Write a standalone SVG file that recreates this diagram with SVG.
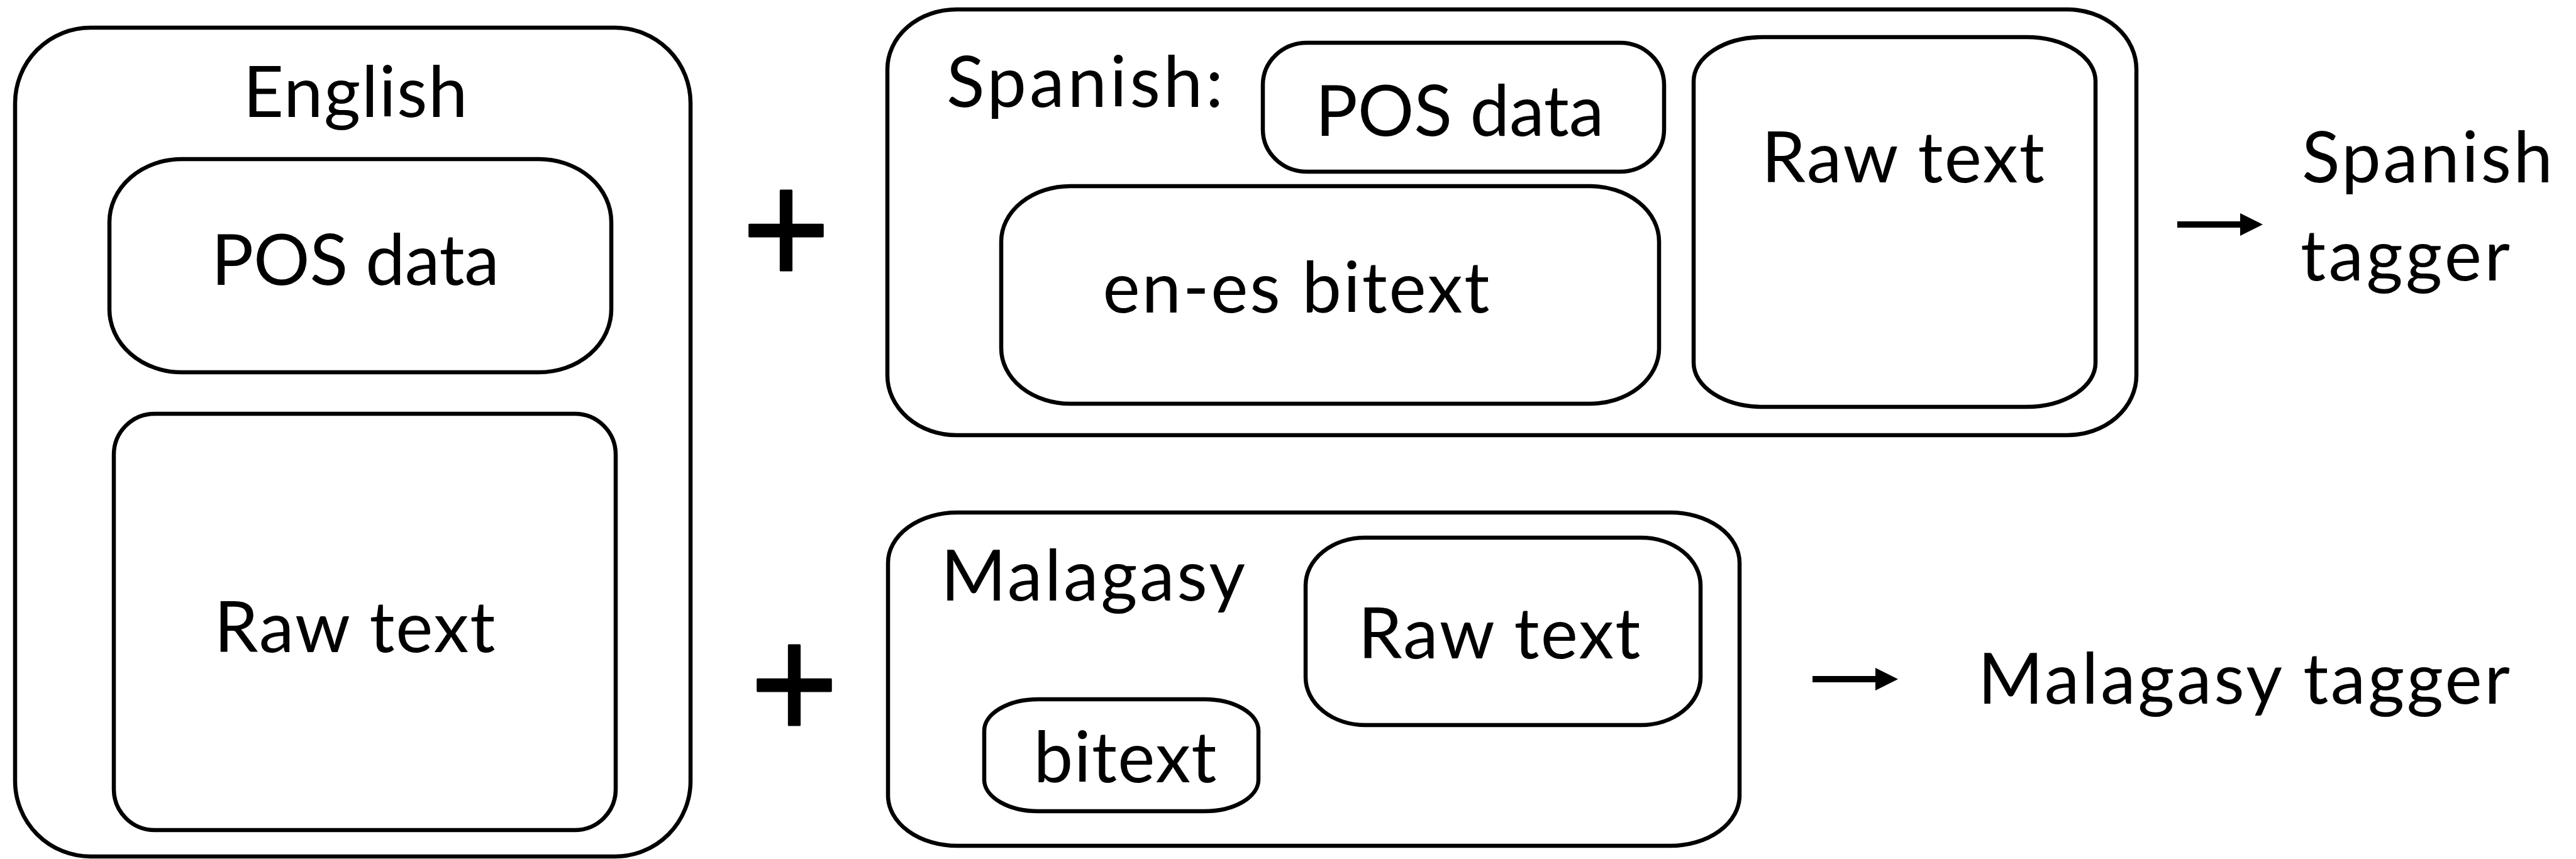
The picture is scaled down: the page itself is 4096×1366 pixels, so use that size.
<svg xmlns="http://www.w3.org/2000/svg" width="4096" height="1366" viewBox="0 0 4096 1366">
  <style>
    .box { fill: none; stroke: #000; stroke-width: 6.5; }
    .lbl { font-family: Lato, "Liberation Sans", sans-serif; font-size: 112px; fill: #000; }
    .mid { text-anchor: middle; }
    .op { font-family: "Liberation Sans", sans-serif; font-size: 240px; text-anchor: middle; fill: #000; stroke: #000; stroke-width: 3; stroke-linejoin: round; }
    .arrow { stroke: #000; stroke-width: 10; fill: none; marker-end: url(#head); }
  </style>
  <defs>
    <marker id="head" markerUnits="userSpaceOnUse" viewBox="0 0 36 36" markerWidth="36" markerHeight="36" refX="2" refY="18" orient="auto">
      <path d="M0,0 L36,18 L0,36 Z" fill="#000"/>
    </marker>
  </defs>
  <rect width="4096" height="1366" fill="#fff"/>

  <!-- English resources -->
  <g id="english">
    <rect class="box" x="24" y="44" width="1074" height="1318" rx="120" ry="120"/>
    <text class="lbl mid" x="565" y="186" textLength="357">English</text>
  </g>
  <g id="english-pos">
    <rect class="box" x="174" y="253" width="798" height="339" rx="115" ry="100"/>
    <text class="lbl mid" x="565" y="453" textLength="458">POS data</text>
  </g>
  <g id="english-raw">
    <rect class="box" x="181" y="658" width="798" height="662" rx="65" ry="65"/>
    <text class="lbl mid" x="564" y="1037" textLength="447">Raw text</text>
  </g>

  <!-- operators, centred on their own origin and stretched slightly taller -->
  <g id="plus-top" transform="translate(1250,368) scale(1,1.08)"><text class="op" x="0" y="78.5">+</text></g>
  <g id="plus-bottom" transform="translate(1263,1091) scale(1,1.08)"><text class="op" x="0" y="78.5">+</text></g>

  <!-- Spanish resources -->
  <g id="spanish">
    <rect class="box" x="1411" y="15" width="1986" height="677" rx="110" ry="95"/>
    <text class="lbl mid" x="1725" y="170" textLength="440">Spanish:</text>
  </g>
  <g id="spanish-pos">
    <rect class="box" x="2008" y="68" width="638" height="205" rx="70" ry="67"/>
    <text class="lbl mid" x="2321" y="216" textLength="459">POS data</text>
  </g>
  <g id="en-es-bitext">
    <rect class="box" x="1592" y="296" width="1046" height="346" rx="110" ry="88"/>
    <text class="lbl mid" x="2061" y="497" textLength="615">en-es bitext</text>
  </g>
  <g id="spanish-raw">
    <rect class="box" x="2693" y="59" width="639" height="588" rx="110" ry="70"/>
    <text class="lbl mid" x="3026" y="290" textLength="450">Raw text</text>
  </g>
  <g id="spanish-tagger">
    <text class="lbl" x="3660" y="290" textLength="399">Spanish</text>
    <text class="lbl" x="3658" y="446" textLength="333">tagger</text>
  </g>

  <!-- Malagasy resources -->
  <g id="malagasy">
    <rect class="box" x="1412" y="815" width="1354" height="530" rx="110" ry="80"/>
    <text class="lbl mid" x="1738" y="955" textLength="484">Malagasy</text>
  </g>
  <g id="malagasy-raw">
    <rect class="box" x="2076" y="855" width="628" height="298" rx="95" ry="76"/>
    <text class="lbl mid" x="2384" y="1047" textLength="449">Raw text</text>
  </g>
  <g id="malagasy-bitext">
    <rect class="box" x="1565" y="1112" width="436" height="178" rx="86" ry="50"/>
    <text class="lbl mid" x="1789" y="1244" textLength="291">bitext</text>
  </g>
  <g id="malagasy-tagger">
    <text class="lbl" x="3145" y="1119" textLength="846">Malagasy tagger</text>
  </g>

  <!-- connectors -->
  <g id="connectors">
    <line class="arrow" x1="3462" y1="357" x2="3564" y2="357"/>
    <line class="arrow" x1="2882" y1="1080" x2="2984" y2="1080"/>
  </g>
</svg>
